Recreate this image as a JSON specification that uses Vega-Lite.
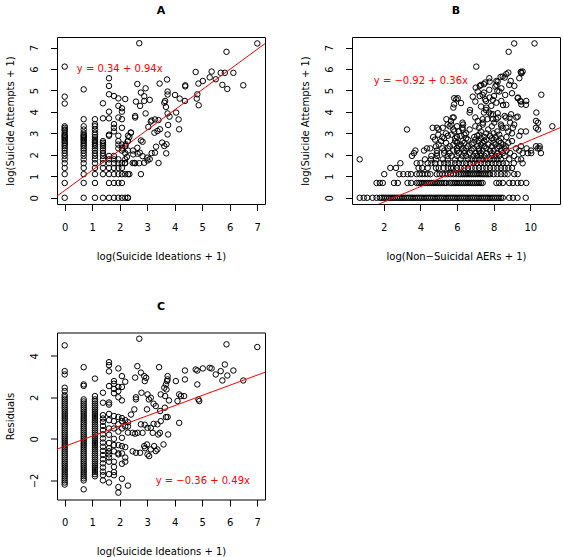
{
"$schema": "https://vega.github.io/schema/vega-lite/v6.json",
"padding": {"left": 4, "top": 4, "right": 0, "bottom": 0},
"bounds": "flush",
"columns": 2,
"spacing": {"row": 128.5, "column": 87},
"config": {
 "view": {"stroke": "black", "strokeWidth": 1},
 "font": "DejaVu Sans",
 "axis": {"grid": false, "domain": false, "tickColor": "black", "tickSize": 6.5, "tickWidth": 1, "labelColor": "black", "labelFontSize": 10, "labelFont": "DejaVu Sans", "titleFont": "DejaVu Sans", "titleFontSize": 10, "titleFontWeight": "normal", "titleColor": "black", "labelOverlap": false, "labelFlush": false, "labelBound": false},
 "axisX": {"labelBaseline": "alphabetic", "labelPadding": 19.8, "titleBaseline": "alphabetic", "titleX": 104, "titleY": 55, "titleAlign": "center"},
 "axisY": {"labelAngle": 270, "labelAlign": "center", "labelBaseline": "alphabetic", "labelPadding": 12.8, "titleAngle": 270, "titleBaseline": "alphabetic", "titleAlign": "center", "titleX": -44, "titleY": 83.5},
 "title": {"fontSize": 11, "fontWeight": "bold", "font": "DejaVu Sans", "color": "black", "anchor": "middle", "offset": 21}
},
"datasets": {
"a": [
{"x":0,"y":6.11},{"x":0,"y":4.71},{"x":0,"y":4.39},{"x":0,"y":3.33},{"x":0,"y":3.26},{"x":0,"y":3.18},{"x":0,"y":3.14},{"x":0,"y":3.04},{"x":0,"y":2.94},{"x":0,"y":2.89},{"x":0,"y":2.83},{"x":0,"y":2.77},{"x":0,"y":2.71},{"x":0,"y":2.64},{"x":0,"y":2.56},{"x":0,"y":2.48},{"x":0,"y":2.4},{"x":0,"y":2.3},{"x":0,"y":2.2},{"x":0,"y":2.08},{"x":0,"y":1.95},{"x":0,"y":1.79},{"x":0,"y":1.61},{"x":0,"y":1.39},{"x":0,"y":1.1},{"x":0,"y":0.69},{"x":0,"y":0},
{"x":0.69,"y":5.05},{"x":0.69,"y":3.66},{"x":0.69,"y":3.33},{"x":0.69,"y":3.18},{"x":0.69,"y":3.04},{"x":0.69,"y":2.94},{"x":0.69,"y":2.89},{"x":0.69,"y":2.83},{"x":0.69,"y":2.77},{"x":0.69,"y":2.71},{"x":0.69,"y":2.64},{"x":0.69,"y":2.56},{"x":0.69,"y":2.48},{"x":0.69,"y":2.4},{"x":0.69,"y":2.3},{"x":0.69,"y":2.2},{"x":0.69,"y":2.08},{"x":0.69,"y":1.95},{"x":0.69,"y":1.79},{"x":0.69,"y":1.61},{"x":0.69,"y":1.39},{"x":0.69,"y":1.1},{"x":0.69,"y":0.69},{"x":0.69,"y":0},
{"x":1.1,"y":3.66},{"x":1.1,"y":3.43},{"x":1.1,"y":3.33},{"x":1.1,"y":3.18},{"x":1.1,"y":3.04},{"x":1.1,"y":2.94},{"x":1.1,"y":2.83},{"x":1.1,"y":2.71},{"x":1.1,"y":2.64},{"x":1.1,"y":2.56},{"x":1.1,"y":2.48},{"x":1.1,"y":2.4},{"x":1.1,"y":2.3},{"x":1.1,"y":2.2},{"x":1.1,"y":2.08},{"x":1.1,"y":1.95},{"x":1.1,"y":1.79},{"x":1.1,"y":1.61},{"x":1.1,"y":1.39},{"x":1.1,"y":1.1},{"x":1.1,"y":0.69},{"x":1.1,"y":0},
{"x":1.39,"y":4.4},{"x":1.39,"y":3.7},{"x":1.39,"y":2.64},{"x":1.39,"y":2.56},{"x":1.39,"y":2.48},{"x":1.39,"y":2.4},{"x":1.39,"y":2.3},{"x":1.39,"y":2.2},{"x":1.39,"y":2.08},{"x":1.39,"y":1.95},{"x":1.39,"y":1.79},{"x":1.39,"y":1.61},{"x":1.39,"y":1.39},{"x":1.39,"y":1.1},{"x":1.39,"y":0},
{"x":1.61,"y":5.57},{"x":1.61,"y":5.21},{"x":1.61,"y":4.82},{"x":1.61,"y":4.01},{"x":1.61,"y":3.7},{"x":1.61,"y":2.94},{"x":1.61,"y":2.89},{"x":1.61,"y":1.95},{"x":1.61,"y":1.79},{"x":1.61,"y":1.61},{"x":1.61,"y":1.39},{"x":1.61,"y":1.1},{"x":1.61,"y":0.69},{"x":1.61,"y":0},
{"x":1.79,"y":4.74},{"x":1.79,"y":3.43},{"x":1.79,"y":3.26},{"x":1.79,"y":3.09},{"x":1.79,"y":1.95},{"x":1.79,"y":1.79},{"x":1.79,"y":1.61},{"x":1.79,"y":1.39},{"x":1.79,"y":1.1},{"x":1.79,"y":0.69},{"x":1.79,"y":0},
{"x":1.95,"y":4.63},{"x":1.95,"y":4.28},{"x":1.95,"y":3.74},{"x":1.95,"y":2.89},{"x":1.95,"y":2.64},{"x":1.95,"y":2.48},{"x":1.95,"y":2.3},{"x":1.95,"y":1.79},{"x":1.95,"y":1.61},{"x":1.95,"y":1.39},{"x":1.95,"y":1.1},{"x":1.95,"y":0.69},{"x":1.95,"y":0},
{"x":2.08,"y":4.17},{"x":2.08,"y":4.01},{"x":2.08,"y":3.66},{"x":2.08,"y":3.26},{"x":2.08,"y":2.48},{"x":2.08,"y":2.3},{"x":2.08,"y":2.2},{"x":2.08,"y":1.61},{"x":2.08,"y":1.39},{"x":2.08,"y":1.1},{"x":2.08,"y":0.69},{"x":2.08,"y":0},
{"x":2.2,"y":4.6},{"x":2.2,"y":2.4},{"x":2.2,"y":2.08},{"x":2.2,"y":1.79},{"x":2.2,"y":1.61},{"x":2.2,"y":1.1},{"x":2.2,"y":0},
{"x":2.3,"y":2.89},{"x":2.3,"y":2.64},{"x":2.3,"y":2.2},{"x":2.3,"y":1.1},{"x":2.3,"y":0},
{"x":2.4,"y":3.04},{"x":2.48,"y":2.2},{"x":2.56,"y":1.61},{"x":2.56,"y":3.81},{"x":2.56,"y":3.74},{"x":2.59,"y":4.48},{"x":2.64,"y":5.3},{"x":2.64,"y":2.33},{"x":2.71,"y":7.2},{"x":2.71,"y":1.61},{"x":2.77,"y":1.1},{"x":2.77,"y":4.9},{"x":2.77,"y":2.67},{"x":2.74,"y":4.28},{"x":2.83,"y":2.61},{"x":2.83,"y":1.94},{"x":2.89,"y":4.73},{"x":2.89,"y":4.51},{"x":2.89,"y":1.63},{"x":2.94,"y":5.1},{"x":2.94,"y":3.93},{"x":2.73,"y":2.1},{"x":2.65,"y":2.05},{"x":3.0,"y":1.87},{"x":3.04,"y":3.3},{"x":3.01,"y":1.74},{"x":3.09,"y":4.56},{"x":3.09,"y":1.8},{"x":3.13,"y":3.55},{"x":3.16,"y":3.6},{"x":3.16,"y":2.08},{"x":3.26,"y":3.03},{"x":3.28,"y":3.65},{"x":3.28,"y":2.1},{"x":3.32,"y":2.38},{"x":3.37,"y":3.11},{"x":3.41,"y":3.62},{"x":3.41,"y":1.62},{"x":3.45,"y":5.32},{"x":3.46,"y":3.19},{"x":3.54,"y":2.57},{"x":3.62,"y":2.41},{"x":3.62,"y":4.43},{"x":3.65,"y":4.51},{"x":3.68,"y":4.23},{"x":3.69,"y":2.07},{"x":3.7,"y":2.49},{"x":3.72,"y":5.51},{"x":3.74,"y":4.95},{"x":3.74,"y":4.81},{"x":3.74,"y":3.93},{"x":3.74,"y":2.95},{"x":3.76,"y":3.39},{"x":3.81,"y":3.78},{"x":2.49,"y":2.02},{"x":2.47,"y":1.62},{"x":2.41,"y":3.03},{"x":2.35,"y":2.83},{"x":2.29,"y":2.64},{"x":2.22,"y":2.49},{"x":2.26,"y":1.9},{"x":2.19,"y":1.62},{"x":2.35,"y":1.1},{"x":2.29,"y":0},{"x":2.53,"y":1.62},
{"x":4.01,"y":4.79},{"x":4.18,"y":4.62},{"x":4.05,"y":3.97},{"x":4.14,"y":3.65},{"x":4.16,"y":3.19},{"x":4.38,"y":5.24},{"x":4.38,"y":5.19},{"x":4.37,"y":4.51},{"x":4.76,"y":5.86},{"x":4.82,"y":4.82},{"x":4.8,"y":4.62},{"x":4.87,"y":4.31},{"x":4.86,"y":5.32},{"x":5.02,"y":5.44},{"x":5.27,"y":5.61},{"x":5.34,"y":5.88},{"x":5.49,"y":5.52},{"x":5.67,"y":5.82},{"x":5.73,"y":5.26},{"x":5.82,"y":5.82},{"x":5.91,"y":5.07},{"x":5.88,"y":6.8},{"x":6.13,"y":5.82},{"x":6.49,"y":5.24},{"x":7.0,"y":7.19}
],
"b": [
{"x":0.69,"y":0},{"x":0.91,"y":0},{"x":1.1,"y":0},{"x":1.39,"y":0},{"x":1.61,"y":0},{"x":1.79,"y":0},{"x":1.9,"y":0},{"x":2,"y":0},{"x":2.1,"y":0},{"x":2.2,"y":0},{"x":2.3,"y":0},{"x":2.4,"y":0},{"x":2.5,"y":0},{"x":2.6,"y":0},{"x":2.7,"y":0},{"x":2.8,"y":0},{"x":2.9,"y":0},{"x":3,"y":0},{"x":3.1,"y":0},{"x":3.2,"y":0},{"x":3.3,"y":0},{"x":3.4,"y":0},{"x":3.5,"y":0},{"x":3.6,"y":0},{"x":3.7,"y":0},{"x":3.8,"y":0},{"x":3.9,"y":0},{"x":4,"y":0},{"x":4.1,"y":0},{"x":4.2,"y":0},{"x":4.3,"y":0},{"x":4.4,"y":0},{"x":4.5,"y":0},{"x":4.6,"y":0},{"x":4.7,"y":0},{"x":4.8,"y":0},{"x":4.9,"y":0},{"x":5,"y":0},{"x":5.1,"y":0},{"x":5.2,"y":0},{"x":5.3,"y":0},{"x":5.4,"y":0},{"x":5.5,"y":0},{"x":5.6,"y":0},{"x":5.7,"y":0},{"x":5.8,"y":0},{"x":5.9,"y":0},{"x":6,"y":0},{"x":6.1,"y":0},{"x":6.2,"y":0},{"x":6.3,"y":0},{"x":6.4,"y":0},{"x":6.5,"y":0},{"x":6.6,"y":0},{"x":6.7,"y":0},{"x":6.8,"y":0},{"x":6.9,"y":0},{"x":7,"y":0},{"x":7.1,"y":0},{"x":7.2,"y":0},{"x":7.3,"y":0},{"x":7.4,"y":0},{"x":7.5,"y":0},{"x":7.6,"y":0},{"x":7.7,"y":0},{"x":7.8,"y":0},{"x":7.9,"y":0},{"x":8,"y":0},{"x":8.1,"y":0},{"x":8.2,"y":0},{"x":8.3,"y":0},{"x":8.4,"y":0},{"x":8.5,"y":0},{"x":8.85,"y":0},{"x":9.05,"y":0},{"x":9.3,"y":0},{"x":9.75,"y":0},
{"x":1.61,"y":0.69},{"x":1.79,"y":0.69},{"x":1.95,"y":0.69},{"x":2.56,"y":0.69},{"x":2.77,"y":0.69},{"x":3.3,"y":0.69},{"x":3.5,"y":0.69},{"x":3.8,"y":0.69},{"x":3.9,"y":0.69},{"x":4,"y":0.69},{"x":4.1,"y":0.69},{"x":4.2,"y":0.69},{"x":4.3,"y":0.69},{"x":4.4,"y":0.69},{"x":4.5,"y":0.69},{"x":4.6,"y":0.69},{"x":4.7,"y":0.69},{"x":4.8,"y":0.69},{"x":4.9,"y":0.69},{"x":5,"y":0.69},{"x":5.1,"y":0.69},{"x":5.2,"y":0.69},{"x":5.3,"y":0.69},{"x":5.4,"y":0.69},{"x":5.6,"y":0.69},{"x":5.7,"y":0.69},{"x":5.8,"y":0.69},{"x":5.9,"y":0.69},{"x":6,"y":0.69},{"x":6.1,"y":0.69},{"x":6.2,"y":0.69},{"x":6.3,"y":0.69},{"x":6.4,"y":0.69},{"x":6.5,"y":0.69},{"x":6.6,"y":0.69},{"x":6.7,"y":0.69},{"x":6.8,"y":0.69},{"x":6.9,"y":0.69},{"x":7,"y":0.69},{"x":7.1,"y":0.69},{"x":7.2,"y":0.69},{"x":7.3,"y":0.69},{"x":7.4,"y":0.69},{"x":8.15,"y":0.69},{"x":8.3,"y":0.69},{"x":8.5,"y":0.69},{"x":8.85,"y":0.69},{"x":9.05,"y":0.69},{"x":9.3,"y":0.69},{"x":9.5,"y":0.69},{"x":9.78,"y":0.69},
{"x":2.03,"y":1.1},{"x":2.85,"y":1.1},{"x":3.07,"y":1.1},{"x":3.31,"y":1.1},{"x":3.49,"y":1.1},{"x":3.8,"y":1.1},{"x":3.95,"y":1.1},{"x":4.1,"y":1.1},{"x":4.25,"y":1.1},{"x":4.4,"y":1.1},{"x":4.55,"y":1.1},{"x":4.9,"y":1.1},{"x":5.05,"y":1.1},{"x":5.2,"y":1.1},{"x":5.35,"y":1.1},{"x":5.5,"y":1.1},{"x":5.65,"y":1.1},{"x":5.8,"y":1.1},{"x":5.95,"y":1.1},{"x":6.1,"y":1.1},{"x":6.2,"y":1.1},{"x":6.3,"y":1.1},{"x":6.4,"y":1.1},{"x":6.5,"y":1.1},{"x":6.6,"y":1.1},{"x":6.7,"y":1.1},{"x":6.8,"y":1.1},{"x":6.9,"y":1.1},{"x":7,"y":1.1},{"x":7.1,"y":1.1},{"x":7.2,"y":1.1},{"x":7.3,"y":1.1},{"x":7.4,"y":1.1},{"x":7.5,"y":1.1},{"x":7.6,"y":1.1},{"x":7.7,"y":1.1},{"x":7.8,"y":1.1},{"x":8,"y":1.1},{"x":8.2,"y":1.1},{"x":8.4,"y":1.1},{"x":8.6,"y":1.1},{"x":8.76,"y":1.1},{"x":9.12,"y":1.1},{"x":9.31,"y":1.1},
{"x":2.36,"y":1.39},{"x":2.67,"y":1.39},{"x":3.9,"y":1.39},{"x":4.1,"y":1.39},{"x":4.4,"y":1.39},{"x":4.85,"y":1.39},{"x":5.0,"y":1.39},{"x":5.27,"y":1.39},{"x":5.5,"y":1.39},{"x":5.67,"y":1.39},{"x":5.8,"y":1.39},{"x":6.0,"y":1.39},{"x":6.2,"y":1.39},{"x":6.4,"y":1.39},{"x":6.6,"y":1.39},{"x":6.8,"y":1.39},{"x":7.0,"y":1.39},{"x":7.2,"y":1.39},{"x":7.4,"y":1.39},{"x":7.6,"y":1.39},{"x":7.8,"y":1.39},{"x":8.0,"y":1.39},{"x":8.2,"y":1.39},{"x":8.4,"y":1.39},{"x":8.6,"y":1.39},{"x":8.8,"y":1.39},{"x":9.0,"y":1.39},
{"x":2.91,"y":1.61},{"x":3.8,"y":1.61},{"x":4.0,"y":1.61},{"x":4.4,"y":1.61},{"x":4.6,"y":1.61},{"x":4.8,"y":1.61},{"x":5.1,"y":1.61},{"x":5.3,"y":1.61},{"x":5.5,"y":1.61},{"x":5.7,"y":1.61},{"x":5.9,"y":1.61},{"x":6.1,"y":1.61},{"x":6.3,"y":1.61},{"x":6.5,"y":1.61},{"x":6.7,"y":1.61},{"x":6.9,"y":1.61},{"x":7.1,"y":1.61},{"x":7.3,"y":1.61},{"x":7.5,"y":1.61},{"x":7.7,"y":1.61},{"x":7.9,"y":1.61},{"x":8.1,"y":1.61},{"x":8.3,"y":1.61},{"x":8.5,"y":1.61},{"x":8.7,"y":1.61},{"x":9.1,"y":1.61},{"x":9.58,"y":1.61},
{"x":0.69,"y":1.79},{"x":4.25,"y":1.79},{"x":4.58,"y":1.79},{"x":4.85,"y":1.79},{"x":5.22,"y":1.79},{"x":5.5,"y":1.79},{"x":5.9,"y":1.79},{"x":6.2,"y":1.79},{"x":6.6,"y":1.79},{"x":6.8,"y":1.79},{"x":7.0,"y":1.79},{"x":7.2,"y":1.79},{"x":7.4,"y":1.79},{"x":7.6,"y":1.79},{"x":7.8,"y":1.79},{"x":8.0,"y":1.79},{"x":8.2,"y":1.79},{"x":8.4,"y":1.79},{"x":8.85,"y":1.79},{"x":9.31,"y":1.79},{"x":9.5,"y":1.79},
{"x":3.54,"y":1.95},{"x":4.6,"y":1.95},{"x":4.91,"y":1.95},{"x":5.49,"y":1.95},{"x":5.7,"y":1.95},{"x":6.0,"y":1.95},{"x":6.3,"y":1.95},{"x":6.5,"y":1.95},{"x":6.9,"y":1.95},{"x":7.1,"y":1.95},{"x":7.3,"y":1.95},{"x":7.5,"y":1.95},{"x":7.9,"y":1.95},{"x":8.1,"y":1.95},{"x":8.3,"y":1.95},{"x":8.6,"y":1.95},{"x":9.12,"y":1.95},
{"x":3.65,"y":2.08},{"x":4.9,"y":2.08},{"x":5.3,"y":2.08},{"x":5.6,"y":2.08},{"x":6.1,"y":2.08},{"x":6.4,"y":2.08},{"x":6.7,"y":2.08},{"x":7.0,"y":2.08},{"x":7.3,"y":2.08},{"x":7.6,"y":2.08},{"x":7.9,"y":2.08},{"x":8.2,"y":2.08},{"x":8.5,"y":2.08},{"x":8.9,"y":2.08},{"x":9.58,"y":2.08},{"x":9.86,"y":2.08},{"x":10.05,"y":2.08},{"x":10.58,"y":2.08},
{"x":3.73,"y":2.2},{"x":4.2,"y":2.2},{"x":4.9,"y":2.2},{"x":5.31,"y":2.2},{"x":5.8,"y":2.2},{"x":6.0,"y":2.2},{"x":6.4,"y":2.2},{"x":6.8,"y":2.2},{"x":7.2,"y":2.2},{"x":7.4,"y":2.2},{"x":7.8,"y":2.2},{"x":8.0,"y":2.2},{"x":8.4,"y":2.2},{"x":8.7,"y":2.2},{"x":9.4,"y":2.2},{"x":10.04,"y":2.2},
{"x":4.36,"y":2.3},{"x":4.54,"y":2.3},{"x":5.2,"y":2.3},{"x":5.5,"y":2.3},{"x":6.0,"y":2.3},{"x":6.3,"y":2.3},{"x":6.5,"y":2.3},{"x":6.9,"y":2.3},{"x":7.2,"y":2.3},{"x":7.6,"y":2.3},{"x":8.2,"y":2.3},{"x":8.6,"y":2.3},{"x":9.22,"y":2.3},{"x":9.8,"y":2.3},{"x":10.4,"y":2.3},{"x":10.51,"y":2.3},
{"x":4.85,"y":2.4},{"x":5.6,"y":2.4},{"x":6.1,"y":2.4},{"x":6.6,"y":2.4},{"x":7.1,"y":2.4},{"x":7.5,"y":2.4},{"x":7.9,"y":2.4},{"x":8.3,"y":2.4},{"x":8.67,"y":2.4},{"x":9.49,"y":2.4},{"x":10.31,"y":2.4},{"x":10.51,"y":2.4},
{"x":5.0,"y":2.48},{"x":5.8,"y":2.48},{"x":6.2,"y":2.48},{"x":6.8,"y":2.48},{"x":7.3,"y":2.48},{"x":7.7,"y":2.48},{"x":8.1,"y":2.48},{"x":8.5,"y":2.48},
{"x":5.4,"y":2.56},{"x":6.0,"y":2.56},{"x":6.4,"y":2.56},{"x":6.9,"y":2.56},{"x":7.4,"y":2.56},{"x":8.0,"y":2.56},{"x":8.4,"y":2.56},{"x":8.8,"y":2.56},
{"x":5.13,"y":2.64},{"x":5.9,"y":2.64},{"x":6.3,"y":2.64},{"x":7.2,"y":2.64},{"x":7.49,"y":2.64},{"x":8.31,"y":2.64},{"x":9.0,"y":2.64},
{"x":4.8,"y":2.71},{"x":6.6,"y":2.71},{"x":7.0,"y":2.71},{"x":7.6,"y":2.71},{"x":8.0,"y":2.71},
{"x":5.3,"y":2.77},{"x":5.9,"y":2.77},{"x":6.5,"y":2.77},{"x":7.3,"y":2.77},{"x":7.9,"y":2.77},{"x":8.4,"y":2.77},
{"x":4.7,"y":2.83},{"x":5.2,"y":2.83},{"x":6.0,"y":2.83},{"x":6.94,"y":2.83},{"x":7.5,"y":2.83},{"x":8.1,"y":2.83},{"x":8.7,"y":2.83},
{"x":5.5,"y":2.89},{"x":6.2,"y":2.89},{"x":7.1,"y":2.89},{"x":7.8,"y":2.89},{"x":9.4,"y":2.89},
{"x":4.98,"y":2.94},{"x":5.7,"y":2.94},{"x":6.4,"y":2.94},{"x":7.22,"y":2.94},{"x":8.3,"y":2.94},
{"x":5.4,"y":3.0},{"x":6.49,"y":3.0},{"x":7.6,"y":3.0},{"x":8.0,"y":3.0},{"x":9.0,"y":3.0},
{"x":5.85,"y":3.09},{"x":6.1,"y":3.09},{"x":7.3,"y":3.09},{"x":8.2,"y":3.09},{"x":8.8,"y":3.09},{"x":9.49,"y":3.09},{"x":9.76,"y":3.09},
{"x":3.27,"y":3.18},{"x":5.0,"y":3.18},{"x":5.8,"y":3.18},{"x":6.31,"y":3.18},{"x":6.69,"y":3.18},{"x":7.7,"y":3.18},{"x":10.42,"y":3.18},
{"x":4.67,"y":3.26},{"x":4.91,"y":3.26},{"x":5.22,"y":3.26},{"x":6.3,"y":3.26},{"x":7.2,"y":3.26},{"x":8.49,"y":3.26},{"x":8.69,"y":3.26},{"x":9.05,"y":3.26},{"x":10.31,"y":3.26},
{"x":5.6,"y":3.33},{"x":6.0,"y":3.33},{"x":7.0,"y":3.33},{"x":7.9,"y":3.33},{"x":8.42,"y":3.33},{"x":11.2,"y":3.33},
{"x":5.49,"y":3.41},{"x":5.69,"y":3.41},{"x":6.33,"y":3.41},{"x":7.4,"y":3.41},{"x":8.4,"y":3.41},{"x":9.12,"y":3.41},
{"x":6.3,"y":3.5},{"x":7.42,"y":3.5},{"x":8.03,"y":3.5},{"x":8.9,"y":3.5},{"x":10.42,"y":3.5},
{"x":5.67,"y":3.58},{"x":7.13,"y":3.58},{"x":10.31,"y":3.58},
{"x":5.42,"y":3.66},{"x":7.4,"y":3.66},{"x":7.65,"y":3.66},{"x":7.96,"y":3.66},{"x":8.15,"y":3.66},
{"x":5.76,"y":3.74},{"x":5.82,"y":3.74},{"x":7.0,"y":3.74},{"x":8.24,"y":3.74},{"x":8.67,"y":3.74},{"x":8.87,"y":3.74},{"x":9.24,"y":3.74},{"x":9.31,"y":3.78},
{"x":7.85,"y":3.89},{"x":7.96,"y":3.89},{"x":8.22,"y":3.94},{"x":8.95,"y":3.89},{"x":8.6,"y":3.81},
{"x":6.69,"y":3.97},{"x":7.47,"y":3.97},{"x":7.75,"y":3.97},{"x":10.33,"y":3.97},
{"x":6.71,"y":4.09},{"x":7.58,"y":4.09},{"x":5.8,"y":4.2},{"x":7.6,"y":4.2},{"x":7.31,"y":4.25},{"x":7.87,"y":4.28},
{"x":5.84,"y":4.35},{"x":8.51,"y":4.32},{"x":8.69,"y":4.33},{"x":9.51,"y":4.35},{"x":9.76,"y":4.33},
{"x":8.15,"y":4.43},{"x":6.22,"y":4.41},{"x":7.0,"y":4.48},{"x":9.49,"y":4.48},{"x":8.42,"y":4.51},{"x":9.45,"y":4.51},{"x":9.78,"y":4.51},{"x":7.58,"y":4.51},{"x":7.95,"y":4.56},
{"x":5.85,"y":4.64},{"x":5.96,"y":4.59},{"x":7.53,"y":4.59},{"x":6.04,"y":4.64},{"x":9.31,"y":4.64},{"x":7.78,"y":4.67},{"x":9.33,"y":4.67},{"x":6.86,"y":4.71},
{"x":7.24,"y":4.74},{"x":8.02,"y":4.74},{"x":7.4,"y":4.79},{"x":8.63,"y":4.79},{"x":10.6,"y":4.8},{"x":9.0,"y":4.87},{"x":7.47,"y":4.9},
{"x":7.13,"y":4.95},{"x":8.31,"y":4.95},{"x":8.2,"y":4.98},{"x":7.76,"y":5.03},{"x":8.42,"y":5.1},{"x":7.02,"y":5.13},{"x":8.09,"y":5.18},
{"x":7.24,"y":5.21},{"x":9.13,"y":5.21},{"x":7.31,"y":5.26},{"x":8.15,"y":5.26},{"x":8.85,"y":5.26},{"x":7.47,"y":5.29},{"x":7.54,"y":5.37},
{"x":7.78,"y":5.41},{"x":8.22,"y":5.41},{"x":8.15,"y":5.44},{"x":8.93,"y":5.44},{"x":9.4,"y":5.57},{"x":7.76,"y":5.57},{"x":8.6,"y":5.6},{"x":8.38,"y":5.63},{"x":8.49,"y":5.65},{"x":8.69,"y":5.76},
{"x":8.8,"y":5.83},{"x":9.5,"y":5.83},{"x":9.48,"y":5.87},{"x":9.52,"y":5.8},{"x":9.58,"y":5.88},
{"x":7.05,"y":6.11},{"x":8.82,"y":6.8},{"x":9.12,"y":7.19},{"x":10.23,"y":7.19}
],
"c": [
{"x":0,"y":4.5},{"x":0,"y":3.26},{"x":0,"y":3.1},{"x":0,"y":2.46},{"x":0,"y":2.3},{"x":0,"y":2.1},{"x":0,"y":2},{"x":0,"y":1.9},{"x":0,"y":1.8},{"x":0,"y":1.7},{"x":0,"y":1.6},{"x":0,"y":1.5},{"x":0,"y":1.4},{"x":0,"y":1.3},{"x":0,"y":1.2},{"x":0,"y":1.1},{"x":0,"y":1},{"x":0,"y":0.9},{"x":0,"y":0.8},{"x":0,"y":0.7},{"x":0,"y":0.6},{"x":0,"y":0.5},{"x":0,"y":0.4},{"x":0,"y":0.3},{"x":0,"y":0.2},{"x":0,"y":0.1},{"x":0,"y":0},{"x":0,"y":-0.1},{"x":0,"y":-0.2},{"x":0,"y":-0.3},{"x":0,"y":-0.4},{"x":0,"y":-0.5},{"x":0,"y":-0.6},{"x":0,"y":-0.7},{"x":0,"y":-0.8},{"x":0,"y":-0.9},{"x":0,"y":-1},{"x":0,"y":-1.1},{"x":0,"y":-1.2},{"x":0,"y":-1.3},{"x":0,"y":-1.4},{"x":0,"y":-1.5},{"x":0,"y":-1.6},{"x":0,"y":-1.7},{"x":0,"y":-1.8},{"x":0,"y":-1.9},{"x":0,"y":-2},{"x":0,"y":-2.1},{"x":0,"y":-2.2},
{"x":0.69,"y":3.45},{"x":0.69,"y":2.62},{"x":0.69,"y":2.55},{"x":0.69,"y":1.9},{"x":0.69,"y":1.8},{"x":0.69,"y":1.7},{"x":0.69,"y":1.6},{"x":0.69,"y":1.5},{"x":0.69,"y":1.4},{"x":0.69,"y":1.3},{"x":0.69,"y":1.2},{"x":0.69,"y":1.1},{"x":0.69,"y":1},{"x":0.69,"y":0.9},{"x":0.69,"y":0.8},{"x":0.69,"y":0.7},{"x":0.69,"y":0.6},{"x":0.69,"y":0.5},{"x":0.69,"y":0.4},{"x":0.69,"y":0.3},{"x":0.69,"y":0.2},{"x":0.69,"y":0.1},{"x":0.69,"y":0},{"x":0.69,"y":-0.1},{"x":0.69,"y":-0.2},{"x":0.69,"y":-0.3},{"x":0.69,"y":-0.4},{"x":0.69,"y":-0.5},{"x":0.69,"y":-0.6},{"x":0.69,"y":-0.7},{"x":0.69,"y":-0.8},{"x":0.69,"y":-0.9},{"x":0.69,"y":-1},{"x":0.69,"y":-1.1},{"x":0.69,"y":-1.2},{"x":0.69,"y":-1.3},{"x":0.69,"y":-1.4},{"x":0.69,"y":-1.5},{"x":0.69,"y":-1.6},{"x":0.69,"y":-1.7},{"x":0.69,"y":-1.8},{"x":0.69,"y":-1.9},{"x":0.69,"y":-2},{"x":0.69,"y":-2.43},
{"x":1.1,"y":2.9},{"x":1.1,"y":2.06},{"x":1.1,"y":1.9},{"x":1.1,"y":1.8},{"x":1.1,"y":1.7},{"x":1.1,"y":1.6},{"x":1.1,"y":1.5},{"x":1.1,"y":1.4},{"x":1.1,"y":1.3},{"x":1.1,"y":1.2},{"x":1.1,"y":1.1},{"x":1.1,"y":1},{"x":1.1,"y":0.9},{"x":1.1,"y":0.8},{"x":1.1,"y":0.7},{"x":1.1,"y":0.6},{"x":1.1,"y":0.5},{"x":1.1,"y":0.4},{"x":1.1,"y":0.3},{"x":1.1,"y":0.2},{"x":1.1,"y":0.1},{"x":1.1,"y":0},{"x":1.1,"y":-0.1},{"x":1.1,"y":-0.2},{"x":1.1,"y":-0.3},{"x":1.1,"y":-0.4},{"x":1.1,"y":-0.5},{"x":1.1,"y":-0.6},{"x":1.1,"y":-0.7},{"x":1.1,"y":-0.8},{"x":1.1,"y":-0.9},{"x":1.1,"y":-1},{"x":1.1,"y":-1.1},{"x":1.1,"y":-1.2},{"x":1.1,"y":-1.3},{"x":1.1,"y":-1.4},{"x":1.1,"y":-1.5},{"x":1.1,"y":-1.6},{"x":1.1,"y":-1.7},{"x":1.1,"y":-1.8},
{"x":1.39,"y":2.22},{"x":1.39,"y":1.74},{"x":1.39,"y":1.14},{"x":1.39,"y":0.98},{"x":1.39,"y":0.82},{"x":1.39,"y":0.62},{"x":1.39,"y":0.42},{"x":1.39,"y":0.22},{"x":1.39,"y":0.02},{"x":1.39,"y":-0.18},{"x":1.39,"y":-0.38},{"x":1.39,"y":-0.58},{"x":1.39,"y":-0.78},{"x":1.39,"y":-0.98},{"x":1.39,"y":-1.18},{"x":1.39,"y":-1.38},{"x":1.39,"y":-1.58},{"x":1.39,"y":-1.75},{"x":1.39,"y":-2.0},
{"x":1.61,"y":3.69},{"x":1.61,"y":3.55},{"x":1.61,"y":3.25},{"x":1.61,"y":2.54},{"x":1.61,"y":1.75},{"x":1.61,"y":1.65},{"x":1.61,"y":1.2},{"x":1.61,"y":0.9},{"x":1.61,"y":0.5},{"x":1.61,"y":0.2},{"x":1.61,"y":-0.2},{"x":1.61,"y":-0.45},{"x":1.61,"y":-0.6},{"x":1.61,"y":-0.75},{"x":1.61,"y":-0.9},{"x":1.61,"y":-1.1},{"x":1.61,"y":-1.7},{"x":1.61,"y":-2.1},
{"x":1.79,"y":2.78},{"x":1.79,"y":2.65},{"x":1.79,"y":2.4},{"x":1.79,"y":2.2},{"x":1.79,"y":1.1},{"x":1.79,"y":0.85},{"x":1.79,"y":0.5},{"x":1.79,"y":0},{"x":1.79,"y":-0.3},{"x":1.79,"y":-0.6},{"x":1.79,"y":-1.1},{"x":1.79,"y":-1.35},{"x":1.79,"y":-1.6},{"x":1.79,"y":-1.75},
{"x":1.95,"y":3.39},{"x":1.95,"y":2.5},{"x":1.95,"y":2.3},{"x":1.95,"y":2.0},{"x":1.95,"y":1.05},{"x":1.95,"y":0.7},{"x":1.95,"y":0.35},{"x":1.95,"y":-0.3},{"x":1.95,"y":-0.7},{"x":1.95,"y":-0.75},{"x":1.95,"y":-2.32},{"x":1.95,"y":-2.59},
{"x":2.08,"y":3.02},{"x":2.08,"y":2.5},{"x":2.08,"y":1.85},{"x":2.08,"y":1.0},{"x":2.08,"y":0.85},{"x":2.08,"y":0.5},{"x":2.08,"y":0.05},{"x":2.08,"y":-0.35},{"x":2.08,"y":-0.7},{"x":2.08,"y":-1.2},{"x":2.08,"y":-1.92},
{"x":2.2,"y":2.75},{"x":2.2,"y":0.9},{"x":2.2,"y":0.6},{"x":2.2,"y":-0.4},{"x":2.2,"y":-0.9},{"x":2.2,"y":-1.1},
{"x":2.3,"y":0.8},{"x":2.3,"y":0.6},{"x":2.3,"y":0.3},{"x":2.3,"y":-2.25},
{"x":2.41,"y":1.17},{"x":2.53,"y":1.42},{"x":2.59,"y":1.9},{"x":2.59,"y":2.0},{"x":2.64,"y":3.5},{"x":2.56,"y":2.95},{"x":2.71,"y":4.82},{"x":2.77,"y":3.19},{"x":2.89,"y":3.02},{"x":2.91,"y":2.78},{"x":2.96,"y":2.94},{"x":3.01,"y":2.14},{"x":3.06,"y":1.9},{"x":2.79,"y":2.22},{"x":2.99,"y":1.42},{"x":2.47,"y":0.29},{"x":2.56,"y":0.25},{"x":2.65,"y":0.29},{"x":2.77,"y":0.7},{"x":2.91,"y":0.68},{"x":2.83,"y":0.29},{"x":3.01,"y":0.53},{"x":2.99,"y":-0.27},{"x":2.89,"y":-0.35},{"x":2.74,"y":-0.67},{"x":2.59,"y":-0.67},{"x":2.47,"y":-0.6},{"x":3.01,"y":-0.75},{"x":2.92,"y":-0.45},
{"x":3.13,"y":1.98},{"x":3.23,"y":1.69},{"x":3.31,"y":1.58},{"x":3.43,"y":3.45},{"x":3.49,"y":2.14},{"x":3.37,"y":0.7},{"x":3.23,"y":0.72},{"x":3.13,"y":0.53},{"x":3.2,"y":0.29},{"x":3.4,"y":0.21},{"x":3.46,"y":0.29},{"x":3.49,"y":0.85},{"x":3.47,"y":1.34},{"x":3.62,"y":2.46},{"x":3.68,"y":2.62},{"x":3.74,"y":3.02},{"x":3.74,"y":2.86},{"x":3.72,"y":2.78},{"x":3.7,"y":2.38},{"x":3.64,"y":1.5},{"x":3.68,"y":1.05},{"x":3.74,"y":1.05},{"x":3.76,"y":0.21},{"x":3.59,"y":-0.27},{"x":3.37,"y":-0.51},{"x":3.31,"y":-0.59},{"x":3.25,"y":-0.35},{"x":3.13,"y":-0.51},{"x":3.07,"y":-0.83},{"x":3.79,"y":1.85},{"x":3.65,"y":2.06},
{"x":4.04,"y":2.78},{"x":4.16,"y":2.14},{"x":4.22,"y":2.06},{"x":4.34,"y":2.06},{"x":4.37,"y":3.29},{"x":4.37,"y":2.86},{"x":4.16,"y":0.77},{"x":4.1,"y":1.82},{"x":4.76,"y":3.34},{"x":4.82,"y":3.29},{"x":4.82,"y":2.62},{"x":4.86,"y":1.9},{"x":4.89,"y":1.82},{"x":5.02,"y":3.39},{"x":5.27,"y":3.42},{"x":5.34,"y":3.39},{"x":5.49,"y":3.1},{"x":5.67,"y":3.26},{"x":5.73,"y":2.81},{"x":5.82,"y":3.58},{"x":5.88,"y":4.55},{"x":5.91,"y":3.05},{"x":6.13,"y":3.29},{"x":6.49,"y":2.81},{"x":7.0,"y":4.42}
]
},
"concat": [
{
 "title": {"text": "A"},
 "width": 208, "height": 167,
 "encoding": {
  "x": {"field": "x", "type": "quantitative", "scale": {"domain": [-0.28, 7.28], "nice": false, "zero": false}, "axis": {"values": [0,1,2,3,4,5,6,7], "tickCount": 8, "labelOverlap": false, "title": "log(Suicide Ideations + 1)"}},
  "y": {"field": "y", "type": "quantitative", "scale": {"domain": [-0.29, 7.49], "nice": false, "zero": false}, "axis": {"values": [0,1,2,3,4,5,6,7], "tickCount": 8, "labelOverlap": false, "title": "log(Suicide Attempts + 1)"}}
 },
 "layer": [
  {"data": {"name": "a"},
   "mark": {"type": "point", "shape": "circle", "filled": false, "stroke": "black", "strokeWidth": 1, "size": 30, "opacity": 1}},
  {"data": {"values": [{"x": -0.28, "y": 0.0768}, {"x": 7.28, "y": 7.1832}]},
   "mark": {"type": "line", "color": "red", "strokeWidth": 1, "clip": true}},
  {"data": {"values": [{"x": 2.0, "y": 5.86, "t": "y = 0.34 + 0.94x"}]},
   "mark": {"type": "text", "color": "red", "fontSize": 10, "font": "DejaVu Sans", "baseline": "alphabetic", "align": "center"},
   "encoding": {"text": {"field": "t"}}}
 ]
},
{
 "title": {"text": "B"},
 "width": 208, "height": 167,
 "encoding": {
  "x": {"field": "x", "type": "quantitative", "scale": {"domain": [0.27, 11.62], "nice": false, "zero": false}, "axis": {"values": [2,4,6,8,10], "tickCount": 5, "labelOverlap": false, "title": "log(Non−Suicidal AERs + 1)"}},
  "y": {"field": "y", "type": "quantitative", "scale": {"domain": [-0.29, 7.49], "nice": false, "zero": false}, "axis": {"values": [0,1,2,3,4,5,6,7], "tickCount": 8, "labelOverlap": false, "title": "log(Suicide Attempts + 1)"}}
 },
 "layer": [
  {"data": {"name": "b"},
   "mark": {"type": "point", "shape": "circle", "filled": false, "stroke": "black", "strokeWidth": 1, "size": 30, "opacity": 1}},
  {"data": {"values": [{"x": 1.75, "y": -0.29}, {"x": 11.62, "y": 3.2632}]},
   "mark": {"type": "line", "color": "red", "strokeWidth": 1, "clip": true}},
  {"data": {"values": [{"x": 4.03, "y": 5.29, "t": "y = −0.92 + 0.36x"}]},
   "mark": {"type": "text", "color": "red", "fontSize": 10, "font": "DejaVu Sans", "baseline": "alphabetic", "align": "center"},
   "encoding": {"text": {"field": "t"}}}
 ]
},
{
 "title": {"text": "C"},
 "width": 208, "height": 167,
 "encoding": {
  "x": {"field": "x", "type": "quantitative", "scale": {"domain": [-0.28, 7.28], "nice": false, "zero": false}, "axis": {"values": [0,1,2,3,4,5,6,7], "tickCount": 8, "labelOverlap": false, "title": "log(Suicide Ideations + 1)"}},
  "y": {"field": "y", "type": "quantitative", "scale": {"domain": [-2.92, 5.12], "nice": false, "zero": false}, "axis": {"values": [-2,0,2,4], "tickCount": 4, "labelOverlap": false, "title": "Residuals"}}
 },
 "layer": [
  {"data": {"name": "c"},
   "mark": {"type": "point", "shape": "circle", "filled": false, "stroke": "black", "strokeWidth": 1, "size": 30, "opacity": 1}},
  {"data": {"values": [{"x": -0.28, "y": -0.4972}, {"x": 7.28, "y": 3.2072}]},
   "mark": {"type": "line", "color": "red", "strokeWidth": 1, "clip": true}},
  {"data": {"values": [{"x": 5.02, "y": -2.19, "t": "y = −0.36 + 0.49x"}]},
   "mark": {"type": "text", "color": "red", "fontSize": 10, "font": "DejaVu Sans", "baseline": "alphabetic", "align": "center"},
   "encoding": {"text": {"field": "t"}}}
 ]
}
]
}
